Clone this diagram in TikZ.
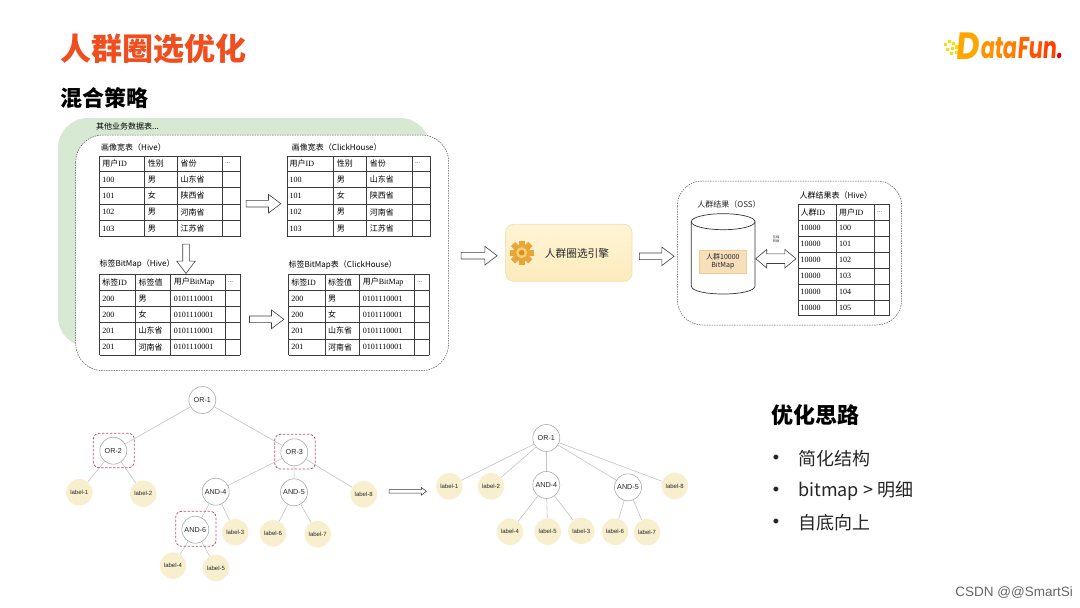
\documentclass[tikz,border=0pt]{standalone}
\usepackage{fontspec}
\usetikzlibrary{shapes.arrows}
\setmainfont{Noto Sans CJK SC}
\newfontfamily\srf{Liberation Serif}
\newfontfamily\hlv{Liberation Sans}
\newfontfamily\logofont[FakeSlant=0.12]{Poppins Bold}
\newcommand\fs[1]{\fontsize{#1}{#1}\selectfont}
\definecolor{titleor}{HTML}{F04E1E}
\definecolor{greenbg}{HTML}{D7E9D3}
\definecolor{edgeg}{HTML}{C4C4C4}
\definecolor{circg}{HTML}{ABABAB}
\definecolor{labelf}{HTML}{F8EFCF}
\definecolor{redd}{HTML}{C2506E}
\definecolor{gridc}{HTML}{3C3C3C}
\definecolor{engt}{HTML}{FFF4D6}
\definecolor{engb}{HTML}{FCEBBB}
\definecolor{engl}{HTML}{EFE0AE}
\definecolor{bmpf}{HTML}{F8DFBC}
\definecolor{bmpl}{HTML}{EFCD8C}
\definecolor{geara}{HTML}{E8A63A}
\definecolor{gearb}{HTML}{F6D26E}
\definecolor{gearc}{HTML}{D98E2B}
\tikzset{
  x=1pt,y=-1pt,
  ttl/.style={inner sep=0pt,anchor=west,text=black,font=\fs{8}},
  cell/.style={inner sep=0pt,anchor=west,text=black,font=\fs{8}\srf},
  gridl/.style={draw=gridc,line width=.8pt},
  hollow/.style={single arrow,draw=black!75,fill=white,line width=.6pt,inner xsep=0pt,inner ysep=3pt,
    single arrow head extend=6pt,single arrow tip angle=74,minimum width=18pt},
  dbl/.style={double arrow,draw=black!75,fill=white,line width=.6pt,inner xsep=0pt,inner ysep=4.5pt,
    double arrow head extend=4.5pt,double arrow tip angle=80,minimum width=18pt,minimum height=40.3pt},
  opn/.style={circle,draw=circg,fill=white,line width=.6pt,inner sep=0pt,minimum size=27pt,font=\fs{7.2}\hlv,text=black!85},
  lab/.style={circle,fill=labelf,inner sep=0pt,minimum size=26.5pt,font=\fs{6}\hlv,text=black!85},
  edge/.style={draw=edgeg,line width=.6pt},
  redbox/.style={draw=redd,line width=.8pt,rounded corners=6pt,inner sep=0pt,dash pattern=on 2.5pt off 1.5pt},
  dashbox/.style={draw=black!65,fill=white,line width=.5pt,dash pattern=on 1.5pt off 1pt},
  bigt/.style={inner sep=0pt,anchor=west,font=\fs{22}\bfseries,text=black},
  bul/.style={inner sep=0pt,anchor=west,font=\fs{18},text=black!85},
  dot/.style={inner sep=0pt,font=\fs{18}\hlv,text=black!85},
}
\newcommand\grid[2]{%
  \foreach \gx in {#1}{\draw[gridl] (\gx,\gya)--(\gx,\gyb);}%
  \foreach \gy in {#2}{\draw[gridl] (\gxa,\gy)--(\gxb,\gy);}}
\begin{document}
\begin{tikzpicture}
\useasboundingbox (0,0) rectangle (1080,608);
\fill[white] (0,0) rectangle (1080,608);

% headings
\node[inner sep=0pt,anchor=west,font=\fs{31}\bfseries,text=titleor] (title) at (60,49) {人群圈选优化};
\node[bigt] (sub) at (60,98) {混合策略};
\node[bigt] (idea) at (771,415) {优化思路};
\node[bul] (b1) at (798,459) {简化结构};
\node[bul] (b2) at (798,491) {bitmap > 明细};
\node[bul] (b3) at (798,523) {自底向上};
\node[dot] (d1) at (776,459) {•};
\node[dot] (d2) at (776,491) {•};
\node[dot] (d3) at (776,523) {•};
\node[inner sep=0pt,anchor=east,font=\fs{13.5}\hlv,text=black!60] (csdn) at (1073,593) {CSDN @@SmartSi};

% logo
\foreach \sx/\sy/\ss in {944/43/2.5,948/40/2.5,952/42/3,946/48/2.5,951/47/3,955/45/3.5,950/52/2.5,955/51/3}
  \fill[yellow!80!orange] (\sx,\sy) rectangle ++(\ss,\ss);
\node[inner sep=0pt,anchor=base west,font=\fs{38}\logofont,text=orange!70!yellow,xscale=.85] (logoD) at (955,59) {D};
\node[inner sep=0pt,anchor=base west,font=\fs{30}\logofont,xscale=.7] (logoT) at (980,58.5)
  {\textcolor{orange!85!yellow}{a}\textcolor{orange!90!yellow}{t}\textcolor{orange}{a}\textcolor{orange!80!red}{F}\textcolor{orange!65!red}{u}\textcolor{orange!50!red}{n}\textcolor{red!85!black}{.}};

% left panels
\fill[greenbg,rounded corners=30pt] (58,118) rectangle (430,347);
\draw[dashbox,rounded corners=27pt] (75.7,135) rectangle (448.7,370.7);
\node[ttl] (other) at (96,126.7) {其他业务数据表...};

\node[ttl] (t1) at (101,147) {画像宽表（Hive）};
\node[ttl] (t2) at (291.7,147) {画像宽表（ClickHouse）};
\node[ttl] (t3) at (99.3,264) {标签BitMap（Hive）};
\node[ttl] (t4) at (288.3,264.7) {标签BitMap表（ClickHouse）};

% profile tables
\foreach \xA/\xB/\xC/\xD/\xE in {99.7/144.7/177.3/222.3/240,287/333.7/366.7/412.3/430.7}{
  \def\gya{156}\def\gyb{236.7}\let\gxa\xA\let\gxb\xE
  \grid{\xA,\xB,\xC,\xD,\xE}{156,171.3,187.7,204,220.3,236.7}
  \node[cell] at (\xA+2.5,163.6) {{\rmfamily 用户}ID};
  \node[cell,font=\fs{8}\rmfamily] at (\xB+3,163.6) {性别};
  \node[cell,font=\fs{8}\rmfamily] at (\xC+3,163.6) {省份};
  \node[cell,font=\fs{6}] at (\xD+2.5,163.6) {...};
  \foreach \yy/\ia/\ib/\ic in {179.5/100/男/山东省,195.8/101/女/陕西省,212.1/102/男/河南省,228.5/103/男/江苏省}{
    \node[cell] at (\xA+2.5,\yy) {\ia};
    \node[cell,font=\fs{8}\rmfamily] at (\xB+3,\yy) {\ib};
    \node[cell,font=\fs{8}\rmfamily] at (\xC+3,\yy) {\ic};
  }
}
% tag tables
\foreach \xA/\xB/\xC/\xD/\xE in {99.7/135.3/170.7/225.3/240,288.7/325/359.7/414.7/429}{
  \def\gya{274.3}\def\gyb{355.3}\let\gxa\xA\let\gxb\xE
  \grid{\xA,\xB,\xC,\xD,\xE}{274.3,290.3,306.7,322.7,339,355.3}
  \node[cell] at (\xA+2.5,282.3) {{\rmfamily 标签}ID};
  \node[cell,font=\fs{8}\rmfamily] at (\xB+3,282.3) {标签值};
  \node[cell] at (\xC+3,282.3) {{\rmfamily 用户}BitMap};
  \node[cell,font=\fs{6}] at (\xD+2.5,282.3) {...};
  \foreach \yy/\ia/\ib in {298.5/200/男,314.7/200/女,330.8/201/山东省,347.1/201/河南省}{
    \node[cell] at (\xA+2.5,\yy) {\ia};
    \node[cell,font=\fs{8}\rmfamily] at (\xB+3,\yy) {\ib};
    \node[cell] at (\xC+3,\yy) {0101110001};
  }
}
% block arrows
\node[hollow,minimum height=34.7pt] (a1) at (261.3,203.7) {};
\node[hollow,minimum height=29.3pt,rotate=-90] (a2) at (186,256.6) {};
\node[hollow,minimum height=34.4pt] (a3) at (264.5,319.3) {};
\node[hollow,minimum height=36pt] (a4) at (477,255.7) {};
\node[hollow,minimum height=34.7pt] (a5) at (654.6,256.3) {};

% engine
\draw[draw=engl,line width=.7pt,rounded corners=8pt,top color=engt,bottom color=engb] (505.7,224.3) rectangle (632,281.3);
\foreach \ga in {0,45,...,315}
  \fill[geara,rotate around={\ga:(521.7,252.7)}] (518.7,240.5) rectangle (524.7,247);
\fill[geara] (521.7,252.7) circle (8.5);
\fill[gearb] (521.7,252.7) circle (5.5);
\fill[gearc] (521.7,252.7) circle (2.8);
\node[inner sep=0pt,font=\fs{10.7},text=black!85] (engine) at (577,253) {人群圈选引擎};

% result panel
\draw[dashbox,rounded corners=25pt] (677.3,181) rectangle (901.7,325);
\node[inner sep=0pt,font=\fs{8},text=black!85] (t5) at (729,204) {人群结果（OSS）};
\draw[draw=black!80,fill=white,line width=.7pt] (691.3,221.7) -- (691.3,286) .. controls (691.3,296.67) and (755,296.67) .. (755,286) -- (755,221.7);
\draw[draw=black!80,fill=white,line width=.7pt] (723.15,221.7) ellipse[x radius=31.85,y radius=8];
\node[draw=bmpl,fill=bmpf,line width=.8pt,inner sep=0pt,minimum width=46.3pt,minimum height=23.7pt,align=center,font=\fs{7},text=black!85] (bmp) at (722.85,261.85) {人群10000\\[1pt]BitMap};
\node[dbl] (a6) at (775.85,258.7) {};
\node[inner sep=0pt,align=center,font=\fs{3.2},text=black!80] (conv) at (776,239) {互相\\[.6pt]转换};
\node[ttl] (t6) at (799.3,195.3) {人群结果表（Hive）};
\def\gya{204}\def\gyb{315.7}\def\gxa{798}\def\gxb{889.3}
\grid{798,836.3,874.7,889.3}{204,220.7,236,252,268.3,284.3,300.3,315.7}
\node[cell] at (800.5,212) {{\rmfamily 人群}ID};
\node[cell] at (838.8,212) {{\rmfamily 用户}ID};
\node[cell,font=\fs{6}] at (877,212) {...};
\foreach \yy/\ib in {228/100,244/101,260/102,276/103,292/104,308/105}{
  \node[cell] at (800.5,\yy) {10000};
  \node[cell] at (838.8,\yy) {\ib};
}

% tree one
\node[opn] (ao) at (202.3,400) {OR-1};
\node[opn] (o2) at (113.3,450.7) {OR-2};
\node[opn] (o3) at (294.3,452.3) {OR-3};
\node[opn] (n4) at (215.7,491.7) {AND-4};
\node[opn] (n5) at (294,492.3) {AND-5};
\node[opn] (n6) at (195.3,529.7) {AND-6};
\node[lab] (l1) at (79.3,492.3) {label-1};
\node[lab] (l2) at (143.3,493.7) {label-2};
\node[lab] (l3) at (235.3,532.3) {label-3};
\node[lab] (l4) at (173,565.7) {label-4};
\node[lab] (l5) at (216,568) {label-5};
\node[lab] (l6) at (273,533.3) {label-6};
\node[lab] (l7) at (317.7,534.3) {label-7};
\node[lab] (l8) at (363.7,494.3) {label-8};
\foreach \p/\q in {ao/o2,ao/o3,o2/l1,o2/l2,o3/n4,o3/n5,o3/l8,n4/n6,n4/l3,n5/l6,n5/l7,n6/l4,n6/l5}
  \draw[edge] (\p) -- (\q);
\node[redbox,minimum width=41pt,minimum height=34.4pt] (r1) at (113.8,450.5) {};
\node[redbox,minimum width=40.6pt,minimum height=34.7pt] (r2) at (295,451.65) {};
\node[redbox,minimum width=40.3pt,minimum height=35pt] (r3) at (195.85,528.8) {};

% thin arrow
\node[hollow,draw=black!80,minimum height=37.3pt,minimum width=7pt,inner ysep=1.5pt,single arrow head extend=2pt,line width=.5pt] (a7) at (406.6,491.3) {};

% tree two
\node[opn] (bo) at (546.3,438) {OR-1};
\node[opn] (b4) at (546.3,485) {AND-4};
\node[opn] (b5) at (628,487.3) {AND-5};
\node[lab] (m1) at (449.3,486.3) {label-1};
\node[lab] (m2) at (491,486.3) {label-2};
\node[lab] (m3) at (581.3,531) {label-3};
\node[lab] (m4) at (510,531.7) {label-4};
\node[lab] (m5) at (547.7,531.7) {label-5};
\node[lab] (m6) at (615,531.7) {label-6};
\node[lab] (m7) at (647,532.3) {label-7};
\node[lab] (m8) at (674.7,486) {label-8};
\foreach \p/\q in {bo/m1,bo/m2,bo/b4,bo/b5,bo/m8,b4/m4,b4/m5,b4/m3,b5/m6,b5/m7}
  \draw[edge] (\p) -- (\q);
\end{tikzpicture}
\end{document}
